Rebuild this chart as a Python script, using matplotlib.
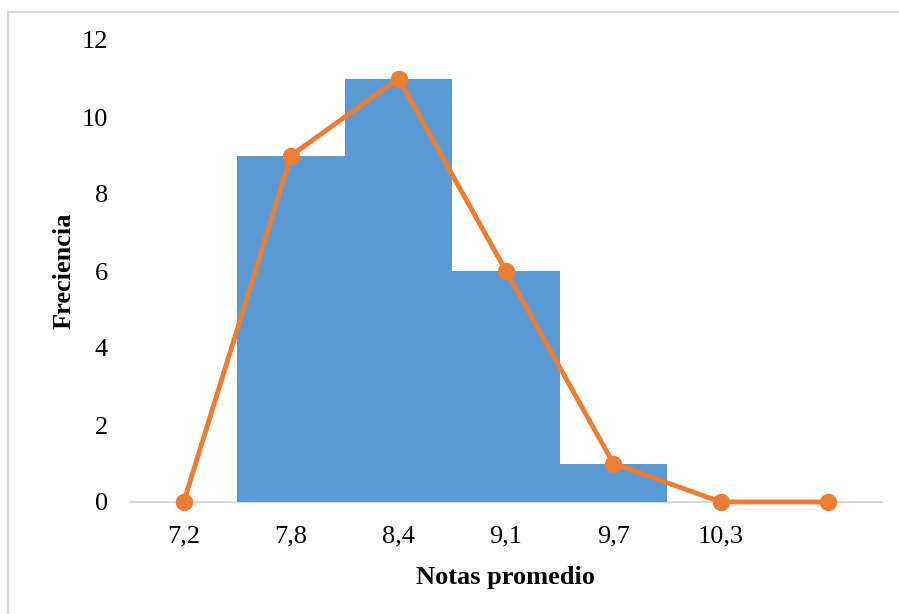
import matplotlib
matplotlib.use("Agg")
import matplotlib.pyplot as plt
from matplotlib.patches import Rectangle

categories = ["7,2", "7,8", "8,4", "9,1", "9,7", "10,3", ""]
bar_values = [0, 9, 11, 6, 1, 0, 0]
line_values = [0, 9, 11, 6, 1, 0, 0]
y_ticks = [0, 2, 4, 6, 8, 10, 12]

plt.rcParams['font.family'] = ['Liberation Serif', 'DejaVu Serif']

W, H = 899, 614
fig = plt.figure(figsize=(W / 100, H / 100), dpi=100)
ax = fig.add_axes([130 / W, (H - 502) / H, (882 - 130) / W, (502 - 40) / H])

x = list(range(len(categories)))
ax.bar(x, bar_values, width=1.0, color="#5B9BD5", zorder=2)
ax.plot(x, line_values, color="#ED7D31", linewidth=3.5, marker="o",
        markersize=11.5, zorder=4, solid_capstyle="round", clip_on=False)

ax.set_xlim(-0.5, len(categories) - 0.5)
ax.set_ylim(0, 12)
ax.set_yticks(y_ticks)
ax.set_yticklabels([str(v) for v in y_ticks], fontsize=19)
ax.set_xticks(x)
ax.set_xticklabels(categories, fontsize=19)
ax.tick_params(axis="both", length=0)
ax.tick_params(axis="y", pad=16)
ax.tick_params(axis="x", pad=17)

for s in ["top", "right", "left"]:
    ax.spines[s].set_visible(False)
ax.spines["bottom"].set_color("#D9D9D9")
ax.spines["bottom"].set_linewidth(1.5)
ax.spines["bottom"].set_zorder(1)

ax.set_xlabel("Notas promedio", fontsize=19, fontweight="bold", labelpad=13)
ax.set_ylabel("Freciencia", fontsize=19, fontweight="bold", labelpad=4)

fig.patches.append(Rectangle((8 / W, -0.1), 1.2, (H - 12) / H + 0.1,
                             transform=fig.transFigure, fill=False,
                             edgecolor="#D9D9D9", linewidth=1.5))

fig.savefig("out.png", dpi=100)
